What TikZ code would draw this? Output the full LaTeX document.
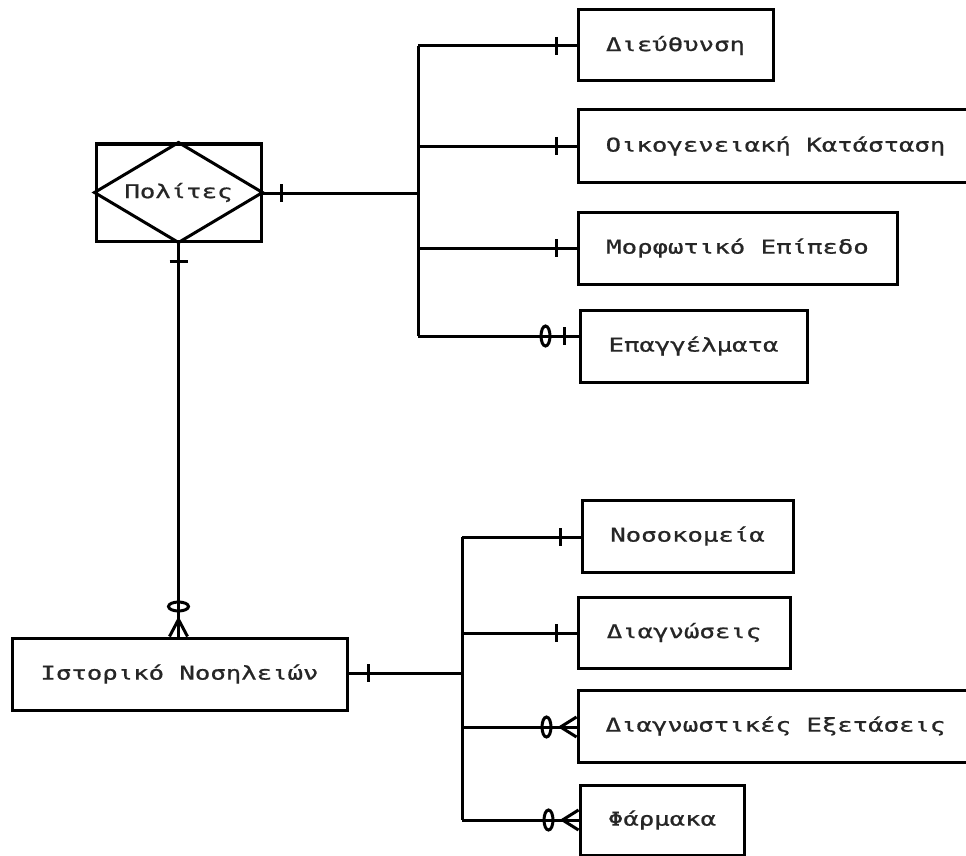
\documentclass[tikz,border=0pt]{standalone}
\usepackage{fontspec}
\newfontfamily\erfont[FakeStretch=1.35,FakeBold=0.8]{DejaVu Sans Mono}
\usetikzlibrary{calc}
\begin{document}
\begin{tikzpicture}[x=1pt,y=-1pt,
  ent/.style={draw,line width=3pt,rectangle,inner sep=0pt,font=\erfont\fontsize{19}{22}\selectfont,text=black!85},
  conn/.style={line width=3pt},
  tickmark/.style={line width=3pt},
  ring/.style={line width=3pt}]
\clip (0,0) rectangle (966,856);
\fill[white] (0,0) rectangle (966,856);
% entities
\node[ent,minimum width=165pt,minimum height=97pt] (p) at (178.5,192.5) {Πολίτες};
\draw[line width=3pt,line join=miter] (p.north) -- (p.east) -- (p.south) -- (p.west) -- cycle;
\node[ent,minimum width=195pt,minimum height=71pt] (d) at (675.5,45.5) {Διεύθυνση};
\node[ent,minimum width=395pt,minimum height=72pt] (o) at (775.5,146) {Οικογενειακή Κατάσταση};
\node[ent,minimum width=319pt,minimum height=72pt] (m) at (737.5,248) {Μορφωτικό Επίπεδο};
\node[ent,minimum width=227pt,minimum height=72pt] (e) at (693.5,346) {Επαγγέλματα};
\node[ent,minimum width=335pt,minimum height=72pt] (h) at (179.5,674) {Ιστορικό Νοσηλειών};
\node[ent,minimum width=211pt,minimum height=72pt] (n) at (687.5,536) {Νοσοκομεία};
\node[ent,minimum width=212pt,minimum height=71pt] (g) at (684,632.5) {Διαγνώσεις};
\node[ent,minimum width=395pt,minimum height=72pt] (x) at (775.5,726) {Διαγνωστικές Εξετάσεις};
\node[ent,minimum width=164pt,minimum height=70pt] (f) at (662,820) {Φάρμακα};
% trunk coordinates
\coordinate (a1) at (418,46);
\coordinate (a2) at (418,146);
\coordinate (a3) at (418,248);
\coordinate (a4) at (418,336);
\coordinate (a0) at (418,193);
\coordinate (b1) at (462,537);
\coordinate (b2) at (462,633);
\coordinate (b3) at (462,727);
\coordinate (b4) at (462,820);
\coordinate (b0) at (462,673);
\coordinate (ed) at (a1 -| d.west);
\coordinate (eo) at (a2 -| o.west);
\coordinate (em) at (a3 -| m.west);
\coordinate (ee) at (a4 -| e.west);
\coordinate (en) at (b1 -| n.west);
\coordinate (eg) at (b2 -| g.west);
\coordinate (ex) at (b3 -| x.west);
\coordinate (ef) at (b4 -| f.west);
\coordinate (ep) at (a0 -| p.east);
\coordinate (eh) at (b0 -| h.east);
\coordinate (hn) at (p.south |- h.north);
% connectors
\draw[conn] (a1) -- (a4);
\draw[conn] (ep) -- (a0);
\draw[conn] (a1) -- (ed);
\draw[conn] (a2) -- (eo);
\draw[conn] (a3) -- (em);
\draw[conn] (a4) -- (ee);
\draw[conn] (b1) -- (b4);
\draw[conn] (eh) -- (b0);
\draw[conn] (b1) -- (en);
\draw[conn] (b2) -- (eg);
\draw[conn] (b3) -- (ex);
\draw[conn] (b4) -- (ef);
\draw[conn] (p.south) -- (hn);
% one ticks
\foreach \c/\dx in {ed/-20,eo/-20,em/-20,en/-20,eg/-20,ee/-14}{
  \draw[tickmark] ($(\c)+(\dx,-9)$) -- ($(\c)+(\dx,9)$);
}
\draw[tickmark] ($(ep)+(19,-9)$) -- ($(ep)+(19,9)$);
\draw[tickmark] ($(eh)+(20,-9)$) -- ($(eh)+(20,9)$);
\draw[tickmark] ($(p.south)+(-9,19)$) -- ($(p.south)+(9,19)$);
% rings
\draw[ring] ($(ee)+(-33,0)$) ellipse [x radius=4.5, y radius=10];
\draw[ring] ($(ex)+(-30,0)$) ellipse [x radius=4.5, y radius=10];
\draw[ring] ($(ef)+(-30,0)$) ellipse [x radius=4.5, y radius=10];
\draw[ring] ($(hn)+(0,-30)$) ellipse [x radius=10, y radius=4.5];
% crow's feet
\foreach \c in {ex,ef}{
  \draw[tickmark] ($(\c)+(0,-10)$) -- ($(\c)+(-16,0)$) -- ($(\c)+(0,10)$);
}
\draw[tickmark] ($(hn)+(-9,0)$) -- ($(hn)+(0,-17)$) -- ($(hn)+(9,0)$);
\end{tikzpicture}
\end{document}
